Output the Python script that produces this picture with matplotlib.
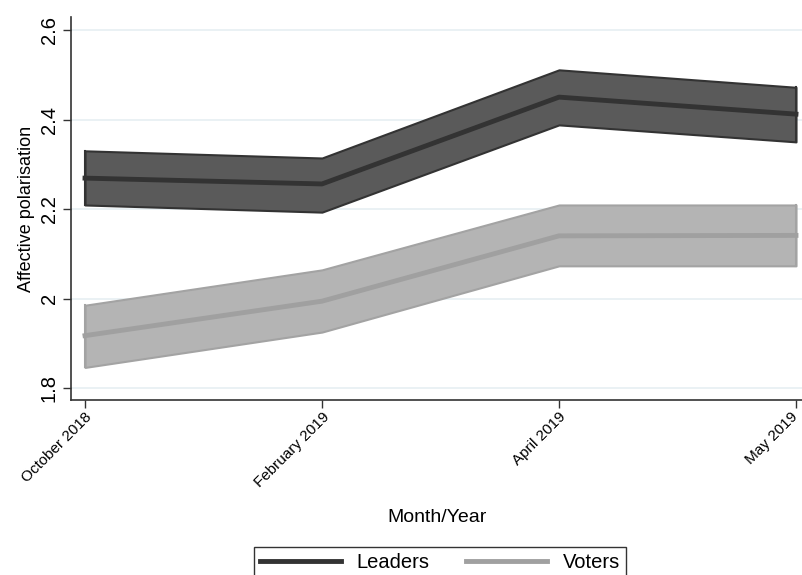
import matplotlib
matplotlib.use("Agg")
import matplotlib.pyplot as plt
import matplotlib.transforms as mtransforms
import numpy as np

plt.rcParams['font.family'] = ['Liberation Sans', 'DejaVu Sans']

# survey waves
months = ["October 2018", "February 2019", "April 2019", "May 2019"]

# mean affective polarisation and 95% CI bounds
leaders_mean = [2.269, 2.256, 2.450, 2.412]
leaders_lo = [2.209, 2.193, 2.388, 2.350]
leaders_hi = [2.330, 2.314, 2.511, 2.472]

voters_mean = [1.917, 1.994, 2.140, 2.141]
voters_lo = [1.846, 1.925, 2.073, 2.073]
voters_hi = [1.985, 2.064, 2.209, 2.209]

x = np.arange(len(months))

fig = plt.figure(figsize=(8.03, 5.75), dpi=100)
ax = fig.add_axes([71 / 803, 1 - 400 / 575, 1 - 71 / 803, (400 - 17) / 575])

# confidence bands
ax.fill_between(x, leaders_lo, leaders_hi, facecolor="#5a5a5a",
                edgecolor="#333333", linewidth=1.5, zorder=2)
ax.plot([x[0], x[0]], [leaders_lo[0], leaders_hi[0]], color="#333333", lw=1.5, zorder=2)
ax.plot([x[-1], x[-1]], [leaders_lo[-1], leaders_hi[-1]], color="#333333", lw=1.5, zorder=2)

ax.fill_between(x, voters_lo, voters_hi, facecolor="#b4b4b4",
                edgecolor="#a3a3a3", linewidth=1.5, zorder=2)
ax.plot([x[0], x[0]], [voters_lo[0], voters_hi[0]], color="#a3a3a3", lw=1.5, zorder=2)
ax.plot([x[-1], x[-1]], [voters_lo[-1], voters_hi[-1]], color="#a3a3a3", lw=1.5, zorder=2)

# mean lines
l1, = ax.plot(x, leaders_mean, color="#333333", lw=3.5, label="Leaders", zorder=3)
l2, = ax.plot(x, voters_mean, color="#a0a0a0", lw=3.5, label="Voters", zorder=3)

ax.set_xlim(-14 / 237, 3 + 7 / 237)
ax.set_ylim(1.8 - 12 * 0.2 / 89.5, 2.6 + 13 * 0.2 / 89.5)

ax.set_yticks([1.8, 2.0, 2.2, 2.4, 2.6])
ax.set_yticklabels(["1.8", "2", "2.2", "2.4", "2.6"], rotation=90, va="center",
                   fontsize=14.5)
ax.set_xticks(x)
ax.set_xticklabels(months, rotation=45, ha="right", va="top",
                   rotation_mode="anchor", fontsize=11)
ax.tick_params(axis="both", direction="out", length=6, width=1, color="#333333")
ax.tick_params(axis="y", pad=3)
ax.tick_params(axis="x", pad=1)

# nudge the last month label so it stays inside the canvas
last = ax.get_xticklabels()[-1]
last.set_transform(last.get_transform() +
                   mtransforms.ScaledTranslation(-4 / 72, 0, fig.dpi_scale_trans))

ax.grid(axis="y", color="#e6eff2", lw=1.2, zorder=0)
ax.set_axisbelow(True)

for side in ["top", "right"]:
    ax.spines[side].set_visible(False)
for side in ["left", "bottom"]:
    ax.spines[side].set_color("#333333")
    ax.spines[side].set_linewidth(1.2)

ax.set_ylabel("Affective polarisation", fontsize=13, labelpad=3)
ax.set_xlabel("Month/Year", fontsize=14, labelpad=14)

fig.legend(handles=[l1, l2], loc="upper center", ncol=2,
           bbox_to_anchor=(440 / 803, 1 - 537 / 575),
           frameon=True, fancybox=False, edgecolor="black",
           fontsize=14.5, handlelength=4.0, columnspacing=1.8,
           borderpad=0.3, handletextpad=0.8)

fig.savefig("out.png", dpi=100)
